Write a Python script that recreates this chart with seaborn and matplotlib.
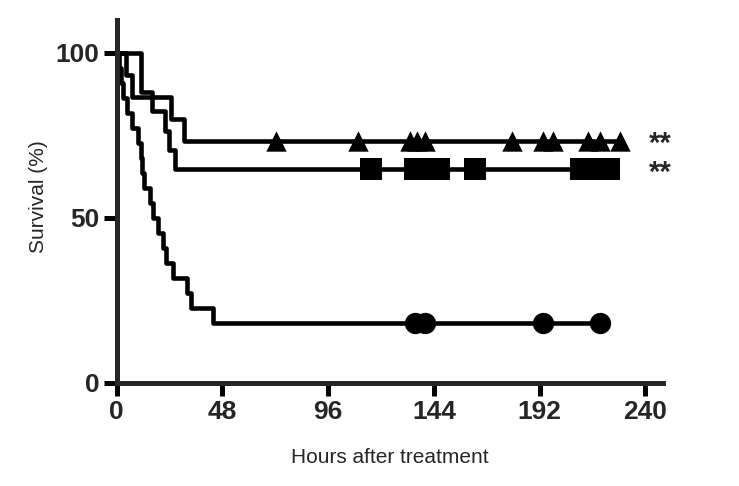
import numpy as np
import pandas as pd
import seaborn as sns
import matplotlib.pyplot as plt

# death / censor times (hours)
circle_deaths = [1, 2, 3, 4.5, 7, 9.5, 11, 11.5, 12.5, 15, 16.5, 18.5, 21, 22.5, 25.5, 32, 33.5, 43.5]
circle_censored = [135.5, 140, 193.5, 219.5]
square_deaths = [11, 11, 16, 22, 23.5, 26.5]
square_censored = [115.5, 135.5, 141.5, 146.5, 162.5, 211, 213.5, 216, 218.5, 221, 223.5]
triangle_deaths = [4, 7, 24.5, 30.5]
triangle_censored = [72.5, 109.5, 133, 136.5, 140, 179.5, 193.5, 198, 214, 219.5, 228.5]

groups = {'circle': (circle_deaths, circle_censored),
          'square': (square_deaths, square_censored),
          'triangle': (triangle_deaths, triangle_censored)}
markers = {'circle': 'o', 'square': 's', 'triangle': '^'}
msize = {'circle': 235, 'square': 245, 'triangle': 215}
stars = {'square': '**', 'triangle': '**'}

x_ticks = [0, 48, 96, 144, 192, 240]
y_ticks = [0, 50, 100]


def km(deaths, censored):
    # kaplan-meier step curve in percent
    all_t = np.array(sorted(deaths + censored))
    d = pd.Series(1, index=deaths).groupby(level=0).sum()
    s = 1.0
    xs, ys = [0.0], [100.0]
    for t, nd in d.items():
        s *= 1 - nd / (all_t >= t).sum()
        xs.append(t)
        ys.append(s * 100)
    xs.append(all_t.max())
    ys.append(ys[-1])
    cy = [ys[np.searchsorted(xs, c, side='right') - 1] for c in censored]
    return xs, ys, cy


curves, cens = [], []
for g, (dth, cen) in groups.items():
    xs, ys, cy = km(dth, cen)
    curves.append(pd.DataFrame({'hours': xs, 'survival': ys, 'group': g}))
    cens.append(pd.DataFrame({'hours': cen, 'survival': cy, 'group': g}))
curves = pd.concat(curves, ignore_index=True)
cens = pd.concat(cens, ignore_index=True)

sns.set_theme(style='ticks')
plt.rcParams['font.family'] = ['Liberation Sans', 'DejaVu Sans']

fig, ax = plt.subplots(figsize=(7.39, 4.86), dpi=100)
fig.subplots_adjust(left=0.158, right=0.897, bottom=0.212, top=0.959)

black = {g: 'black' for g in groups}
sns.lineplot(data=curves, x='hours', y='survival', hue='group', palette=black,
             estimator=None, sort=False, drawstyle='steps-post', linewidth=3.3,
             legend=False, ax=ax)
for g in groups:
    sub = cens[cens['group'] == g]
    sns.scatterplot(data=sub, x='hours', y='survival', color='black',
                    marker=markers[g], s=msize[g], linewidth=0, zorder=3,
                    legend=False, ax=ax)

for g, txt in stars.items():
    lvl = cens.loc[cens['group'] == g, 'survival'].iloc[-1]
    ax.annotate(txt, xy=(247, lvl), xytext=(0, -8), textcoords='offset points',
                ha='center', va='baseline', fontsize=21, fontweight='bold',
                annotation_clip=False)

ax.set_xlim(0, 248)
ax.set_ylim(0, 110)
ax.set_xticks(x_ticks)
ax.set_yticks(y_ticks)
sns.despine(ax=ax)
for sp in ['left', 'bottom']:
    ax.spines[sp].set_linewidth(3.6)
ax.tick_params(width=3.6, length=9.5, pad=3, labelsize=19, color='black')
for lab in ax.get_xticklabels() + ax.get_yticklabels():
    lab.set_fontweight('bold')

ax.set_xlabel('Hours after treatment', fontsize=15)
ax.set_ylabel('Survival (%)', fontsize=15)
ax.xaxis.set_label_coords(0.5, -0.18)
ax.yaxis.set_label_coords(-0.125, 0.514)

fig.savefig('out.png', dpi=100)
